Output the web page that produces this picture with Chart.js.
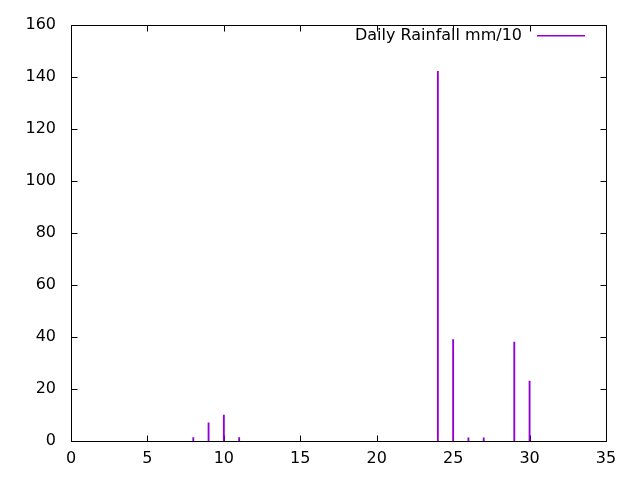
<!DOCTYPE html>
<html>
<head>
<meta charset="utf-8">
<script src="https://cdn.jsdelivr.net/npm/chart.js@4"></script>
<style>
html,body{margin:0;padding:0;background:#fff;}
#wrap{width:640px;height:480px;}
</style>
</head>
<body>
<div id="wrap"><canvas id="c" width="640" height="480"></canvas></div>
<script>
const days = [8, 9, 10, 11, 24, 25, 26, 27, 29, 30];
const rainfall = [1.3, 7, 10, 1.3, 142, 39, 1.2, 1.2, 38, 23];
const seriesLabel = 'Daily Rainfall mm/10';
const xTicks = [0, 5, 10, 15, 20, 25, 30, 35];
const yTicks = [0, 20, 40, 60, 80, 100, 120, 140, 160];

const COLOR = '#9400d3';
const FONT = 'DejaVu Sans';

const framePlugin = {
  id: 'frame',
  beforeDatasetsDraw(chart) {
    const ctx = chart.ctx;
    const a = chart.chartArea;
    const xs = chart.scales.x, ys = chart.scales.y;
    const tl = 6;
    ctx.save();
    ctx.strokeStyle = '#000';
    ctx.lineWidth = 1;
    ctx.beginPath();
    const L = Math.round(a.left) + 0.5, R = Math.round(a.right) + 0.5;
    const T = Math.round(a.top) + 0.5, B = Math.round(a.bottom) + 0.5;
    ctx.rect(L, T, R - L, B - T);
    xTicks.forEach(v => {
      const px = Math.round(xs.getPixelForValue(v)) + 0.5;
      ctx.moveTo(px, B); ctx.lineTo(px, B - tl);
      ctx.moveTo(px, T); ctx.lineTo(px, T + tl);
    });
    yTicks.forEach(v => {
      const py = Math.round(ys.getPixelForValue(v)) + 0.5;
      ctx.moveTo(L, py); ctx.lineTo(L + tl, py);
      ctx.moveTo(R, py); ctx.lineTo(R - tl, py);
    });
    ctx.stroke();
    ctx.restore();
  },
  afterDraw(chart) {
    const ctx = chart.ctx;
    ctx.save();
    ctx.globalAlpha = 1;
    ctx.globalCompositeOperation = 'source-over';
    ctx.font = '16px "' + FONT + '"';
    ctx.fillStyle = '#000';
    ctx.textAlign = 'right';
    ctx.textBaseline = 'alphabetic';
    ctx.fillText(seriesLabel, 522, 40);
    ctx.fillStyle = COLOR;
    ctx.fillRect(537, 35, 48, 1.5);
    ctx.restore();
  }
};

new Chart(document.getElementById('c'), {
  type: 'bar',
  data: {
    datasets: [{
      label: seriesLabel,
      data: days.map((d, i) => ({x: d, y: rainfall[i]})),
      backgroundColor: COLOR,
      borderWidth: 0,
      barThickness: 1.2,
      grouped: false
    }]
  },
  options: {
    responsive: false,
    animation: false,
    devicePixelRatio: 1,
    layout: {padding: {top: 22, right: 34, left: 0, bottom: 0}},
    plugins: {legend: {display: false}, tooltip: {enabled: false}},
    scales: {
      x: {
        type: 'linear', min: 0, max: 35, offset: false,
        grid: {display: false, drawTicks: false},
        border: {display: false},
        afterBuildTicks: s => { s.ticks = xTicks.map(v => ({value: v})); },
        afterFit: s => { s.height = 39; },
        ticks: {color: '#000', font: {family: FONT, size: 16}, padding: 8, maxRotation: 0, autoSkip: false}
      },
      y: {
        type: 'linear', min: 0, max: 160,
        grid: {display: false, drawTicks: false},
        border: {display: false},
        afterBuildTicks: s => { s.ticks = yTicks.map(v => ({value: v})); },
        afterFit: s => { s.width = 71; },
        ticks: {color: '#000', font: {family: FONT, size: 16}, padding: 15}
      }
    }
  },
  plugins: [framePlugin]
});
</script>
</body>
</html>
